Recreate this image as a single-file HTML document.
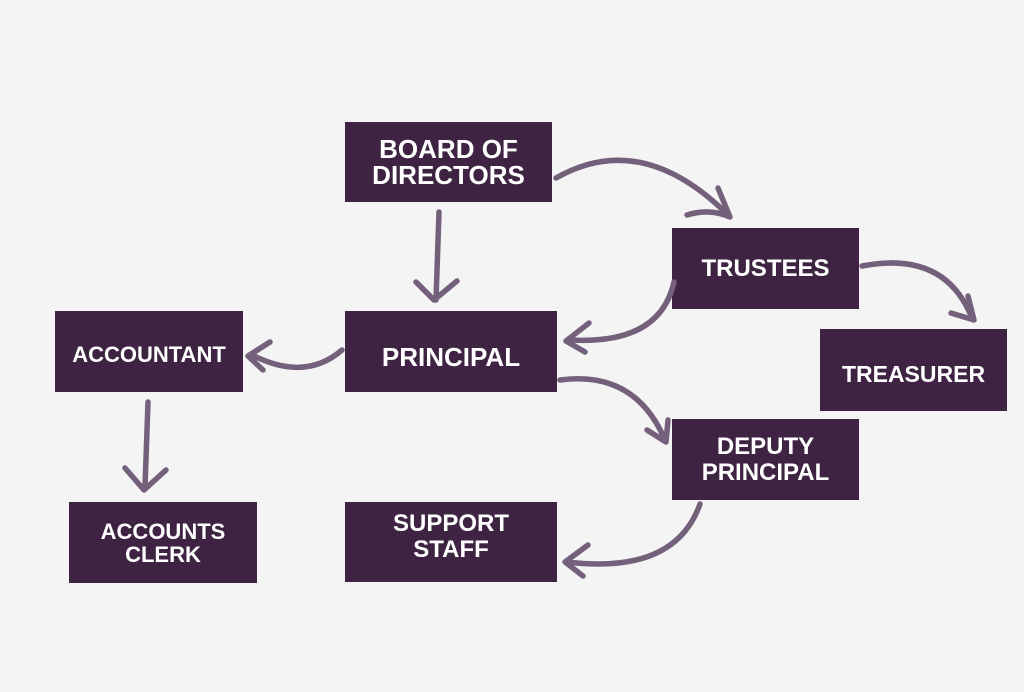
<!DOCTYPE html>
<html><head><style>
body{margin:0;width:1024px;height:692px;background:#f4f4f4;position:relative;overflow:hidden;font-family:"Liberation Sans",sans-serif}
.b{position:absolute;background:#3e2442;color:#fff;font-weight:bold;font-size:25px;line-height:26px;display:flex;align-items:center;justify-content:center;text-align:center;letter-spacing:0px;box-sizing:border-box}
svg{position:absolute;left:0;top:0}
</style></head><body>
<div class="b" style="left:345px;top:122px;width:207px;height:80px;font-size:26px">BOARD OF<br>DIRECTORS</div>
<div class="b" style="left:672px;top:228px;width:187px;height:81px;font-size:24px">TRUSTEES</div>
<div class="b" style="left:345px;top:311px;width:212px;height:81px;font-size:26px;padding-top:10px">PRINCIPAL</div>
<div class="b" style="left:55px;top:311px;width:188px;height:81px;font-size:22px;padding-top:6px">ACCOUNTANT</div>
<div class="b" style="left:820px;top:329px;width:187px;height:82px;font-size:23px;padding-top:8px">TREASURER</div>
<div class="b" style="left:672px;top:419px;width:187px;height:81px;font-size:24px">DEPUTY<br>PRINCIPAL</div>
<div class="b" style="left:345px;top:502px;width:212px;height:80px;padding-bottom:10px;font-size:24px">SUPPORT<br>STAFF</div>
<div class="b" style="left:69px;top:502px;width:188px;height:81px;font-size:22px;line-height:23px">ACCOUNTS<br>CLERK</div>
<svg width="1024" height="692" fill="none" stroke="#74607a" stroke-width="5.5" stroke-linecap="round" stroke-linejoin="round">
<path d="M556 178 Q640 130 725 212"/><path d="M687 215 Q710 208 730 217 L718 188"/>
<path d="M439 212 L436 300"/><path d="M416 282 L434 300 L457 281"/>
<path d="M674 282 Q660 345 570 340"/><path d="M589 323 L566 341 L585 352"/>
<path d="M862 266 Q945 250 972 318"/><path d="M951 313 L974 320 L968 296"/>
<path d="M342 350 Q305 382 252 355"/><path d="M270 342 L248 356 L263 370"/>
<path d="M560 380 Q635 370 665 440"/><path d="M647 430 L666 442 L668 420"/>
<path d="M148 402 L145 487"/><path d="M125 468 L144 490 L166 470"/>
<path d="M700 504 Q675 575 567 562"/><path d="M588 545 L565 562 L583 576"/>
</svg>
</body></html>
